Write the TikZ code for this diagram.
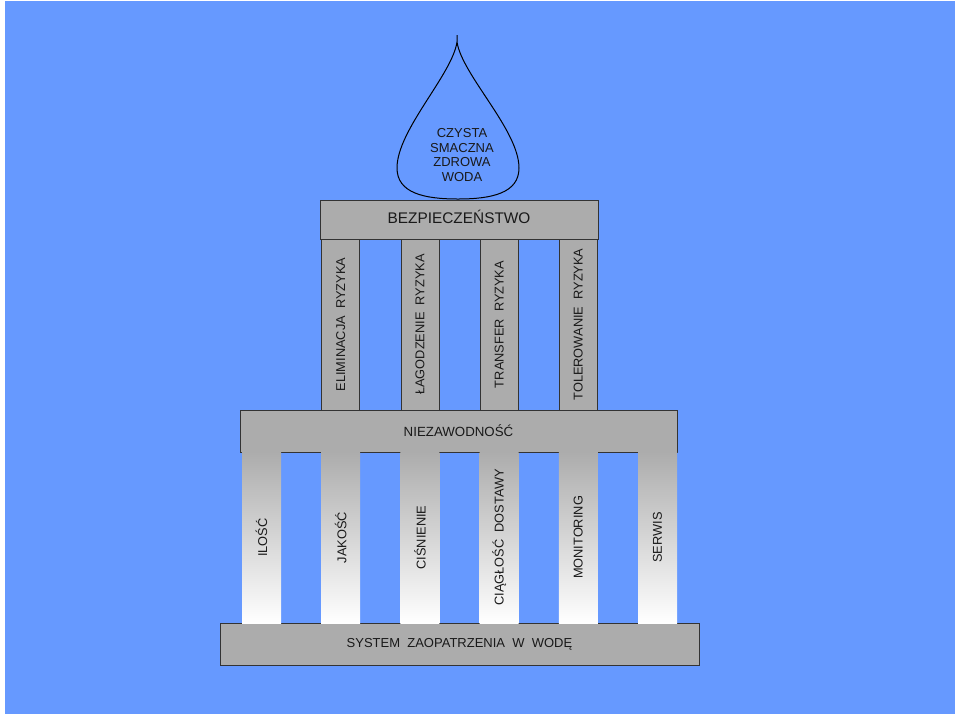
\documentclass[tikz,border=0pt]{standalone}
\usepackage{fontspec}
\setmainfont{Liberation Sans}
\definecolor{skyBlue}{HTML}{6699FF}

\begin{document}
\begin{tikzpicture}[x=1pt,y=-1pt]

    \tikzstyle{commonNode}=[inner sep=0pt, align=center, text=black!90, font=\fontsize{12.8}{14}\selectfont]
    \tikzstyle{beam}=[commonNode, rectangle, draw=black!80, line width=0.8pt, fill=gray!65, font=\fontsize{13}{15}\selectfont]
    \tikzstyle{upperPillar}=[commonNode, rectangle, draw=black!80, line width=0.6pt, fill=gray!65, minimum width=38pt, minimum height=171pt]
    \tikzstyle{lowerPillar}=[commonNode, rectangle, top color=gray!65, bottom color=white, minimum width=39pt, minimum height=171pt]

    \begin{scope}
        % Spacing the pillars out
        \def \hspacing {79.2}
        \def \xorigin {261.5}

        % Background
        \useasboundingbox (0,0) rectangle (960,716);
        \fill[white] (0,0) rectangle (960,716);
        \fill[skyBlue] (5,1) rectangle (955,714);

        % Drop
        \draw[line width=1pt] (457,35) -- (457,42)
            .. controls (462,75) and (519,130) .. (519,168)
            .. controls (519,193) and (492,199) .. (458,199)
            .. controls (424,199) and (397,193) .. (397,168)
            .. controls (397,130) and (452,75) .. (457,42);
        \node at (462, 155) [commonNode, font=\fontsize{13}{14.7}\selectfont] (water) {CZYSTA\\SMACZNA\\ZDROWA\\WODA};

        % Beams
        \node at (459, 219.5) [beam, minimum width=278pt, minimum height=39pt, text depth=6pt, font=\fontsize{15.4}{17}\selectfont] (safety) {BEZPIECZEŃSTWO};
        \node at (458.5, 431) [beam, minimum width=437pt, minimum height=42pt, font=\fontsize{13.3}{15}\selectfont] (reliability) {NIEZAWODNOŚĆ};
        \node at (459.5, 644) [beam, minimum width=479pt, minimum height=42pt] (system) {SYSTEM\ \ ZAOPATRZENIA\ \ W\ \ WODĘ};

        % Upper pillars
        \node at (\xorigin+1*\hspacing, 324.5) [upperPillar] (elimination) {\rotatebox{90}{ELIMINACJA\ \ RYZYKA}};
        \node at (\xorigin+2*\hspacing, 324.5) [upperPillar] (mitigation)  {\rotatebox{90}{ŁAGODZENIE\ \ RYZYKA}};
        \node at (\xorigin+3*\hspacing, 324.5) [upperPillar] (transfer)    {\rotatebox{90}{TRANSFER\ \ RYZYKA}};
        \node at (\xorigin+4*\hspacing, 324.5) [upperPillar] (tolerance)   {\rotatebox{90}{TOLEROWANIE\ \ RYZYKA}};

        % Lower pillars
        \node at (\xorigin+0*\hspacing, 537.5) [lowerPillar] (quantity)   {\rotatebox{90}{ILOŚĆ}};
        \node at (\xorigin+1*\hspacing, 537.5) [lowerPillar] (quality)    {\rotatebox{90}{JAKOŚĆ}};
        \node at (\xorigin+2*\hspacing, 537.5) [lowerPillar] (pressure)   {\rotatebox{90}{CIŚNIENIE}};
        \node at (\xorigin+3*\hspacing, 537.5) [lowerPillar] (continuity) {\rotatebox{90}{CIĄGŁOŚĆ\ \ DOSTAWY}};
        \node at (\xorigin+4*\hspacing, 537.5) [lowerPillar] (monitoring) {\rotatebox{90}{MONITORING}};
        \node at (\xorigin+5*\hspacing, 537.5) [lowerPillar] (service)    {\rotatebox{90}{SERWIS}};
    \end{scope}

\end{tikzpicture}
\end{document}
